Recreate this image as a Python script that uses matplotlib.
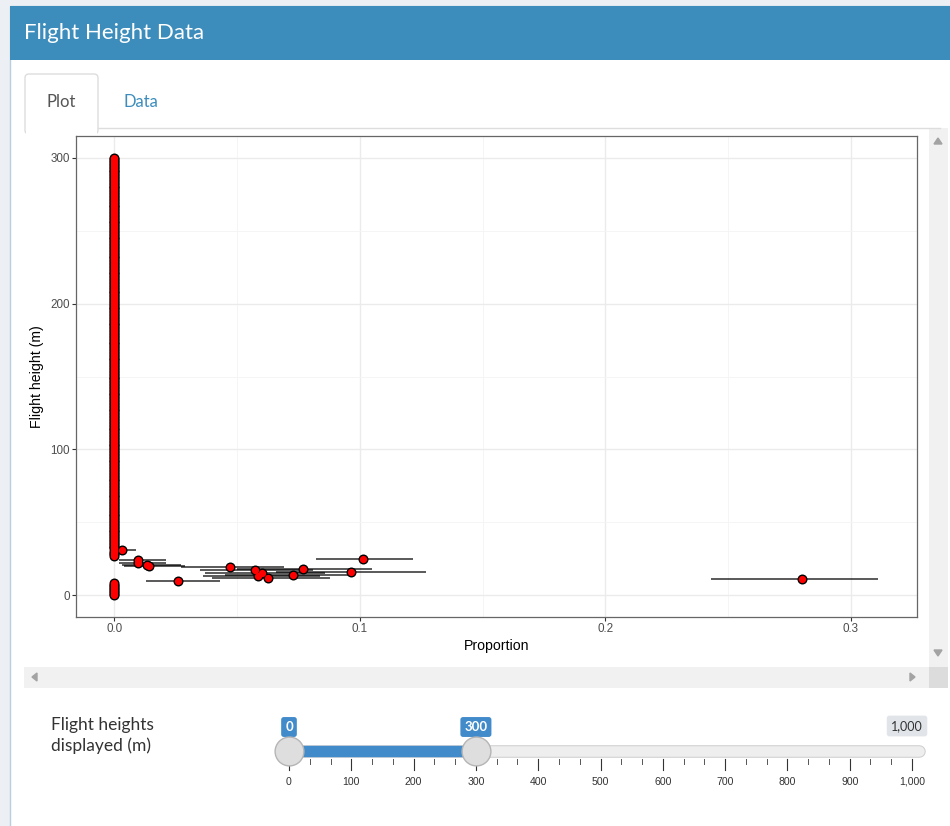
import matplotlib
matplotlib.use('Agg')
import matplotlib.pyplot as plt
import matplotlib.patches as mpatches
import numpy as np

# flight heights (m) with a non-zero proportion, and their confidence limits
heights = [10, 11, 12, 13, 14, 15, 16, 17, 18, 19, 20, 21, 22, 24, 25, 31]
proportion = [0.026, 0.280, 0.0625, 0.0586, 0.073, 0.0602, 0.0963, 0.0573,
              0.077, 0.047, 0.0142, 0.0133, 0.0096, 0.0096, 0.1012, 0.0031]
prop_lower = [0.013, 0.243, 0.040, 0.036, 0.045, 0.037, 0.066, 0.035,
              0.050, 0.027, 0.004, 0.003, 0.002, 0.002, 0.082, 0.000]
prop_upper = [0.043, 0.311, 0.088, 0.084, 0.098, 0.086, 0.127, 0.081,
              0.105, 0.069, 0.029, 0.027, 0.021, 0.021, 0.1216, 0.009]

# heights displayed whose proportion is zero
zero_heights = [h for h in range(0, 301)
                if h not in heights and not (9 <= h <= 26)]

# slider state
slider_min, slider_max = 0, 1000
slider_sel = (0, 300)
slider_ticks = [0, 100, 200, 300, 400, 500, 600, 700, 800, 900, 1000]
slider_tick_labels = ['0', '100', '200', '300', '400', '500', '600', '700',
                      '800', '900', '1,000']

W, H = 950, 826
BLUE = '#3c8dbc'
UI_FONT = ['Lato', 'DejaVu Sans']
PLOT_FONT = ['Liberation Sans', 'DejaVu Sans']

fig = plt.figure(figsize=(W / 100, H / 100), dpi=100)
fig.patch.set_facecolor('#ecf0f5')

# page / widget layer in pixel coordinates
ui = fig.add_axes([0, 0, 1, 1])
ui.set_xlim(0, W)
ui.set_ylim(H, 0)
ui.axis('off')

ui.add_patch(mpatches.Rectangle((10, 6), W, H, facecolor='white',
                                edgecolor='#b8cfdf', lw=1))
ui.add_patch(mpatches.Rectangle((10, 6), W, 54, facecolor=BLUE, lw=0))
ui.text(24, 33, 'Flight Height Data', color='white', fontsize=16,
        family=UI_FONT, va='center', ha='left')

# tabs
ui.plot([98, 940], [128, 128], color='#dddddd', lw=1)
ui.add_patch(mpatches.FancyBboxPatch((25, 74), 73, 60,
                                     boxstyle='round,pad=0,rounding_size=4',
                                     facecolor='white', edgecolor='#dddddd', lw=1))
ui.add_patch(mpatches.Rectangle((26, 127), 71, 10, facecolor='white', lw=0))
ui.text(61.5, 102, 'Plot', color='#555555', fontsize=12, family=UI_FONT,
        ha='center', va='center')
ui.text(141, 102, 'Data', color=BLUE, fontsize=12, family=UI_FONT,
        ha='center', va='center')

# scrollbars
ui.add_patch(mpatches.Rectangle((929, 128), 19, 539, facecolor='#f1f1f1', lw=0))
ui.add_patch(mpatches.Rectangle((24, 667), 905, 21, facecolor='#f1f1f1', lw=0))
ui.add_patch(mpatches.Rectangle((929, 667), 19, 21, facecolor='#dcdcdc', lw=0))
ui.add_patch(mpatches.Polygon([[934, 144], [942, 144], [938, 138]], color='#a3a3a3'))
ui.add_patch(mpatches.Polygon([[934, 650], [942, 650], [938, 656]], color='#a3a3a3'))
ui.add_patch(mpatches.Polygon([[37, 673], [37, 681], [32, 677]], color='#a3a3a3'))
ui.add_patch(mpatches.Polygon([[910, 673], [910, 681], [915, 677]], color='#a3a3a3'))

ui.text(51, 725, 'Flight heights', color='#333333', fontsize=12.5, family=UI_FONT,
        va='center', ha='left')
ui.text(51, 746, 'displayed (m)', color='#333333', fontsize=12.5, family=UI_FONT,
        va='center', ha='left')

# ggplot panel
px0, px1, py0, py1 = 76, 917, 136, 617
ax = fig.add_axes([px0 / W, 1 - py1 / H, (px1 - px0) / W, (py1 - py0) / H])
ax.set_zorder(3)
ax.set_facecolor('white')
ax.set_xlim(-0.0156, 0.327)
ax.set_ylim(-15, 315)
ax.set_xticks([0, 0.1, 0.2, 0.3])
ax.set_xticklabels(['0.0', '0.1', '0.2', '0.3'])
ax.set_yticks([0, 100, 200, 300])
ax.set_xticks([0.05, 0.15, 0.25], minor=True)
ax.set_yticks([50, 150, 250], minor=True)
ax.grid(which='major', color='#ebebeb', lw=1.0)
ax.grid(which='minor', color='#f4f4f4', lw=0.6)
ax.set_axisbelow(True)
for s in ax.spines.values():
    s.set_color('#666666')
    s.set_linewidth(0.9)
ax.tick_params(which='major', length=2.7, width=0.8, color='#333333',
               labelcolor='#4d4d4d', labelsize=8.4, pad=1.5)
ax.tick_params(which='minor', length=0)
for lab in ax.get_xticklabels() + ax.get_yticklabels():
    lab.set_family(PLOT_FONT)
ax.set_xlabel('Proportion', fontsize=10.2, family=PLOT_FONT, color='black')
ax.set_ylabel('Flight height (m)', fontsize=10.2, family=PLOT_FONT, color='black')
ax.xaxis.set_label_coords(0.5, -(639 - py1) / (py1 - py0))
ax.yaxis.set_label_coords(-(px0 - 44) / (px1 - px0), 0.5)

ax.hlines(heights, prop_lower, prop_upper, color='black', alpha=0.7, lw=1.3,
          zorder=2)
all_h = zero_heights + heights
all_p = [0.0] * len(zero_heights) + proportion
ax.scatter(all_p, all_h, s=52, color='black', lw=0, zorder=3)
ax.scatter(all_p, all_h, s=27, color='red', lw=0, zorder=4)

# slider widget on its own value scale
sx0, sx1 = 289, 912
sl = fig.add_axes([sx0 / W, 1 - 800 / H, (sx1 - sx0) / W, 100 / H])
sl.set_xlim(slider_min, slider_max)
sl.set_ylim(800, 700)
sl.axis('off')
sl.plot([slider_min, slider_max + 12], [751, 751], color='#cccccc', lw=9,
        solid_capstyle='round', clip_on=False)
sl.plot([slider_min, slider_max + 12], [751, 751], color='#eeeeee', lw=7.6,
        solid_capstyle='round', clip_on=False)
sl.plot(slider_sel, [751, 751], color='#428bca', lw=8.2,
        solid_capstyle='butt', clip_on=False)
for i, t in enumerate(slider_ticks):
    sl.plot([t, t], [759, 770], color='#333333', lw=0.8, clip_on=False)
    sl.text(t, 782, slider_tick_labels[i], ha='center', va='center',
            fontsize=7.6, family=PLOT_FONT, color='#333333')
    if i < len(slider_ticks) - 1:
        for k in (1, 2):
            m = t + k * (slider_ticks[i + 1] - t) / 3
            sl.plot([m, m], [759, 764], color='#555555', lw=0.7, clip_on=False)
sl.scatter(slider_sel, [751, 751], s=430, facecolor='#dedede',
           edgecolor='#b5b5b5', lw=1, zorder=5, clip_on=False)
for v in slider_sel:
    sl.text(v, 727, '{:,}'.format(v), ha='center', va='center', color='white',
            fontsize=9.5, family=UI_FONT, fontweight='bold',
            bbox=dict(boxstyle='round,pad=0.3,rounding_size=0.2',
                      facecolor='#428bca', edgecolor='none'))
sl.text(slider_max - 8, 726, '{:,}'.format(slider_max), ha='center', va='center',
        color='#333333', fontsize=9, family=UI_FONT,
        bbox=dict(boxstyle='round,pad=0.35,rounding_size=0.2',
                  facecolor='#e1e4e9', edgecolor='none'))

fig.savefig('out.png', dpi=100, facecolor=fig.get_facecolor())
